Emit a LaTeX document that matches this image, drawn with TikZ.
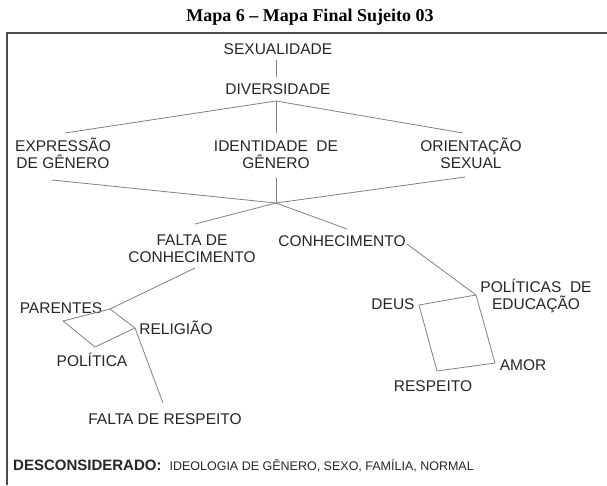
\documentclass[tikz,border=0pt]{standalone}
\usepackage{fontspec}
\setmainfont{Liberation Sans}
\newfontfamily\titulofont{Liberation Serif}
\tikzset{
  rotulo/.style={font=\fontsize{15.5}{17}\selectfont, inner sep=0pt, anchor=base, align=center, text=black!85},
  ligacao/.style={draw=black!50, line width=0.8pt},
  moldura/.style={draw=black!70, line width=1.5pt}
}
\begin{document}
\begin{tikzpicture}[x=1pt,y=-1pt]
\useasboundingbox (0,0) rectangle (607,485);
% titulo e moldura
\node[font=\titulofont\bfseries\fontsize{18}{20}\selectfont, anchor=base, inner sep=0pt] (titulo) at (310,21) {Mapa 6 – Mapa Final Sujeito 03};
\coordinate (m-sup-esq) at (7,33);
\coordinate (m-sup-dir) at (607,33);
\coordinate (m-inf-esq) at (7,485);
\draw[moldura] (m-inf-esq) -- (m-sup-esq) -- (m-sup-dir);

% conceitos
\node[rotulo] (sex) at (278,54) {SEXUALIDADE};
\node[rotulo] (div) at (278,94) {DIVERSIDADE};
\node[rotulo] (expr) at (63,168) {EXPRESSÃO\\DE GÊNERO};
\node[rotulo] (ident) at (276,168) {IDENTIDADE\ \ DE\\GÊNERO};
\node[rotulo] (orient) at (471,168) {ORIENTAÇÃO\\SEXUAL};
\node[rotulo] (falta) at (192,262) {FALTA DE\\CONHECIMENTO};
\node[rotulo] (con) at (342,246) {CONHECIMENTO};
\node[rotulo] (parentes) at (61,313) {PARENTES};
\node[rotulo] (religiao) at (176,334) {RELIGIÃO};
\node[rotulo] (politica) at (92,366) {POLÍTICA};
\node[rotulo] (faltaresp) at (165,424) {FALTA DE RESPEITO};
\node[rotulo] (deus) at (393,309) {DEUS};
\node[rotulo] (poled) at (536,309) {POLÍTICAS\ \ DE\\EDUCAÇÃO};
\node[rotulo] (amor) at (523,370) {AMOR};
\node[rotulo] (respeito) at (433,391) {RESPEITO};
\node[anchor=base west, inner sep=0pt, text=black!85] (descons) at (13,470)
  {\fontsize{15}{17}\selectfont\bfseries DESCONSIDERADO:\hspace{8pt}{\mdseries\fontsize{12.5}{14}\selectfont IDEOLOGIA DE GÊNERO,\ SEXO,\ FAMÍLIA,\ NORMAL}};

% pontos de ligacao
\coordinate (sex-b) at (276,60);
\coordinate (div-t) at (276,77);
\coordinate (div-b) at (276,101);
\coordinate (expr-t) at (65,133);
\coordinate (ident-t) at (276,133);
\coordinate (orient-t) at (463,133);
\coordinate (expr-b) at (52,180);
\coordinate (ident-b) at (276,178);
\coordinate (orient-b) at (465,177);
\coordinate (nucleo) at (276,203);
\coordinate (falta-t) at (195,224);
\coordinate (con-t) at (347,229);
\coordinate (falta-b) at (195,268);
\coordinate (con-d) at (407,244);
\coordinate (parentes-v) at (110,309);
\coordinate (canto-v) at (63,321);
\coordinate (politica-v) at (95,347);
\coordinate (religiao-v) at (135,328);
\coordinate (faltaresp-t) at (163,403);
\coordinate (poled-v) at (476,295);
\coordinate (deus-v) at (419,305);
\coordinate (respeito-v) at (437,371);
\coordinate (amor-v) at (495,363);

% ligacoes
\draw[ligacao] (sex-b) -- (div-t);
\foreach \c in {expr,ident,orient}{
  \draw[ligacao] (div-b) -- (\c-t);
  \draw[ligacao] (\c-b) -- (nucleo);
}
\draw[ligacao] (nucleo) -- (falta-t);
\draw[ligacao] (nucleo) -- (con-t);
\draw[ligacao] (falta-b) -- (parentes-v);
\draw[ligacao] (parentes-v) -- (canto-v) -- (politica-v) -- (religiao-v) -- cycle;
\draw[ligacao] (religiao-v) -- (faltaresp-t);
\draw[ligacao] (con-d) -- (poled-v);
\draw[ligacao] (poled-v) -- (deus-v) -- (respeito-v) -- (amor-v) -- cycle;
\end{tikzpicture}
\end{document}
